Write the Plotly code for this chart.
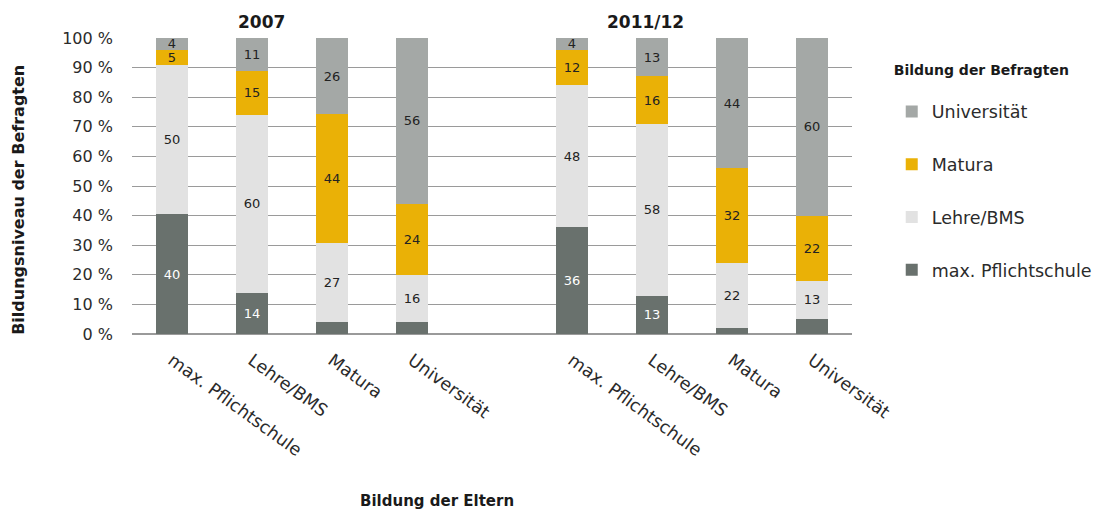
import plotly.graph_objects as go

# Parents' education (x categories), repeated for both survey years
eltern = ["max. Pflichtschule", "Lehre/BMS", "Matura", "Universität"]
jahre = ["2007", "2011/12"]

# Respondents' education shares (%) per parents' education, 2007
pflicht_2007 = [40, 14, 4, 4]
lehre_2007 = [50, 60, 27, 16]
matura_2007 = [5, 15, 44, 24]
uni_2007 = [4, 11, 26, 56]

# Respondents' education shares (%) per parents' education, 2011/12
pflicht_2011 = [36, 13, 2, 5]
lehre_2011 = [48, 58, 22, 13]
matura_2011 = [12, 16, 32, 22]
uni_2011 = [4, 13, 44, 60]

# y-axis ticks
y_ticks = list(range(0, 101, 10))
y_tick_text = [f"{v} %" for v in y_ticks]

# x positions: two groups of four bars with an empty gap between them
x_pos = [0, 1, 2, 3, 5, 6, 7, 8]
tick_text = eltern + eltern

series = [
    ("max. Pflichtschule", pflicht_2007 + pflicht_2011, "#69716d", "white", 10, 4),
    ("Lehre/BMS", lehre_2007 + lehre_2011, "#e2e2e2", "#222222", 0, 3),
    ("Matura", matura_2007 + matura_2011, "#eab106", "#222222", 0, 2),
    ("Universität", uni_2007 + uni_2011, "#a4a8a6", "#222222", 0, 1),
]

fig = go.Figure()
for i, (name, vals, color, tcolor, min_lbl, rank) in enumerate(series):
    labels = [str(v) if v >= min_lbl else "" for v in vals]
    fig.add_trace(go.Bar(
        x=x_pos, y=vals, name=name,
        marker=dict(color=color, line=dict(width=0)),
        width=0.39,
        text=labels, textposition="inside", insidetextanchor="middle",
        textangle=0, constraintext="none",
        textfont=dict(color=tcolor, size=13),
        legendgroup=f"g{i}", legendrank=rank,
    ))

font_family = "DejaVu Sans"
grid_col = "#9a9a9a"

fig.update_layout(
    width=1105, height=511,
    margin=dict(l=132, r=253, t=38, b=177, autoexpand=False),
    barmode="stack", barnorm="percent",
    plot_bgcolor="white", paper_bgcolor="white",
    font=dict(family=font_family, size=16, color="#2b2b2b"),
    uniformtext=dict(minsize=13, mode="show"),
    xaxis=dict(
        range=[-0.5, 8.5], tickvals=x_pos, ticktext=tick_text,
        tickangle=36, showgrid=False, zeroline=False, showline=False,
        ticks="", ticklabelstandoff=12,
        tickfont=dict(size=17.5, color="#2b2b2b"),
    ),
    yaxis=dict(
        range=[0, 100], tickvals=y_ticks, ticktext=y_tick_text,
        showgrid=True, gridcolor=grid_col, gridwidth=1,
        zeroline=True, zerolinecolor=grid_col, zerolinewidth=1.5,
        ticks="", ticklabelstandoff=18,
        tickfont=dict(size=16, color="#2b2b2b"),
    ),
    legend=dict(
        title=dict(text="<b>Bildung der Befragten</b><br>", font=dict(size=14, color="#1a1a1a")),
        traceorder="grouped", tracegroupgap=27,
        xref="container", yref="container",
        x=0.807, xanchor="left", y=0.888, yanchor="top",
        font=dict(size=17.5, color="#2b2b2b"),
        bgcolor="rgba(0,0,0,0)",
    ),
    showlegend=True,
)

# Survey year headings above each group
for xv, label in zip([1.12, 5.92], jahre):
    fig.add_annotation(x=xv, y=1.054, xref="x", yref="paper", text=f"<b>{label}</b>",
                       showarrow=False, font=dict(size=17, color="#1a1a1a"),
                       xanchor="center", yanchor="middle")

# Axis titles
fig.add_annotation(x=-0.157, y=0.453, xref="paper", yref="paper",
                   text="<b>Bildungsniveau der Befragten</b>", textangle=-90,
                   showarrow=False, font=dict(size=16, color="#1a1a1a"),
                   xanchor="center", yanchor="middle")
fig.add_annotation(x=0.424, y=-0.564, xref="paper", yref="paper",
                   text="<b>Bildung der Eltern</b>",
                   showarrow=False, font=dict(size=15, color="#1a1a1a"),
                   xanchor="center", yanchor="middle")

fig.write_html("out.html")
